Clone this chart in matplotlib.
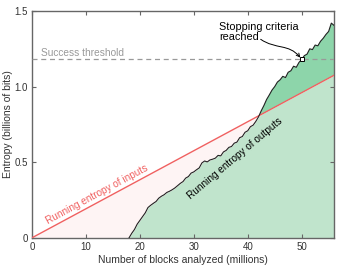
import numpy as np
import matplotlib
matplotlib.use("Agg")
import matplotlib.pyplot as plt
from matplotlib.path import Path
from matplotlib.patches import FancyArrowPatch

plt.rcParams['font.family'] = ['Liberation Sans', 'DejaVu Sans']

# ---- data ----
input_x = [0.0, 56.0]
input_y = [0.0, 1.075]

output_x = [18.0, 18.5, 19.0, 19.5, 20.0, 20.5, 21.0, 21.5, 22.0, 22.5, 23.0, 23.5,
            24.0, 24.5, 25.0, 25.5, 26.0, 26.5, 27.0, 27.5, 28.0, 28.5, 29.0, 29.5,
            30.0, 30.5, 31.0, 31.5, 32.0, 32.5, 33.0, 33.5, 34.0, 34.5, 35.0, 35.5,
            36.0, 36.5, 37.0, 37.5, 38.0, 38.5, 39.0, 39.5, 40.0, 40.5, 41.0, 41.5,
            42.0, 42.5, 43.0, 43.5, 44.0, 44.5, 45.0, 45.5, 46.0, 46.5, 47.0, 47.5,
            48.0, 48.5, 49.0, 49.5, 50.0, 50.5, 51.0, 51.5, 52.0, 52.5, 53.0, 53.5,
            54.0, 54.5, 55.0, 55.5, 56.0]
output_y = [0.000, 0.030, 0.055, 0.090, 0.115, 0.140, 0.165, 0.200, 0.215, 0.228, 0.240, 0.262,
            0.275, 0.285, 0.300, 0.308, 0.318, 0.330, 0.345, 0.360, 0.372, 0.395, 0.405, 0.428,
            0.436, 0.450, 0.462, 0.495, 0.508, 0.502, 0.515, 0.520, 0.527, 0.545, 0.542, 0.568,
            0.578, 0.598, 0.604, 0.626, 0.633, 0.662, 0.670, 0.698, 0.708, 0.735, 0.745, 0.770,
            0.800, 0.840, 0.875, 0.915, 0.945, 0.977, 1.000, 1.030, 1.045, 1.068, 1.060, 1.095,
            1.105, 1.135, 1.128, 1.160, 1.180, 1.205, 1.215, 1.250, 1.245, 1.275, 1.270, 1.300,
            1.320, 1.345, 1.365, 1.420, 1.405]

threshold = 1.18
stop_x = 50.0

xticks = [0, 10, 20, 30, 40, 50]
xticklabels = ['0', '10', '20', '30', '40', '50']
yticks = [0, 0.5, 1.0, 1.5]
yticklabels = ['0', '0.5', '1.0', '1.5']

# ---- colors ----
RED = '#f06060'
LGREEN = '#c0e4cc'
DGREEN = '#8dd5aa'
PINK = '#fef4f4'
SPINE = '#666666'

fig = plt.figure(figsize=(3.44, 2.69), dpi=100)
ax = fig.add_axes([0.093, 0.116, 0.878, 0.843])

xg = np.concatenate([[0.0], np.array(output_x)])
og = np.concatenate([[0.0], np.array(output_y)])
ig = np.interp(xg, input_x, input_y)

ax.fill_between(xg, 0, np.minimum(og, ig), color=LGREEN, lw=0)
ax.fill_between(xg, ig, og, where=og >= ig, interpolate=True, color=DGREEN, lw=0)
ax.fill_between(xg, og, ig, where=og <= ig, interpolate=True, color=PINK, lw=0)

ax.plot(input_x, input_y, color=RED, lw=1.0, zorder=3)
ax.plot(output_x, output_y, color='#222222', lw=0.8, zorder=4)
ax.plot([0, 56], [threshold, threshold], color='#999999', lw=0.9, dashes=(4, 3), zorder=3)

ax.plot([stop_x], [threshold], marker='s', ms=3.5, mfc='white', mec='black', mew=0.7, zorder=6)

ax.text(1.6, 1.222, 'Success threshold', color='#999999', fontsize=7.3, ha='left', va='center')
ax.text(12.1, 0.288, 'Running entropy of inputs', color=RED, fontsize=7.2,
        rotation=28.3, ha='center', va='center', rotation_mode='anchor')
ax.text(37.6, 0.527, 'Running entropy of outputs', color='black', fontsize=7.2,
        rotation=40, ha='center', va='center', rotation_mode='anchor')
ax.text(34.7, 1.36, 'Stopping criteria\nreached', fontsize=7.8, ha='left', va='center',
        linespacing=1.05)

arrow_path = Path([(42.4, 1.313), (45.2, 1.245), (47.6, 1.285), (49.75, 1.192)],
                  [Path.MOVETO, Path.CURVE4, Path.CURVE4, Path.CURVE4])
arr = FancyArrowPatch(path=arrow_path, arrowstyle='->', mutation_scale=6,
                      color='black', lw=0.7, zorder=5)
ax.add_patch(arr)

ax.set_xlim(0, 56)
ax.set_ylim(0, 1.5)
ax.set_xticks(xticks)
ax.set_xticklabels(xticklabels)
ax.set_yticks(yticks)
ax.set_yticklabels(yticklabels)
ax.tick_params(direction='in', length=3, width=0.8, color=SPINE, labelsize=7,
               top=True, right=True, pad=3, labelcolor='#333333')
for s in ax.spines.values():
    s.set_color(SPINE)
    s.set_linewidth(1.0)
ax.set_xlabel('Number of blocks analyzed (millions)', fontsize=7.5, labelpad=2, color='#333333')
ax.set_ylabel('Entropy (billions of bits)', fontsize=7.5, labelpad=1, color='#333333')

fig.savefig('out.png', dpi=100)
